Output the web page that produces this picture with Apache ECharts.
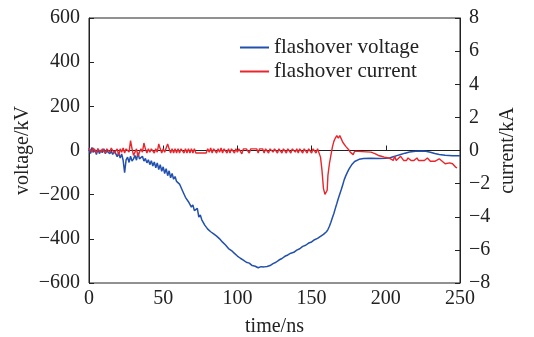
<!DOCTYPE html>
<html><head><meta charset="utf-8">
<script src="https://cdn.jsdelivr.net/npm/echarts@6/dist/echarts.min.js"></script>
<style>html,body{margin:0;padding:0;background:#fff}#c{width:534px;height:337px}</style>
</head><body><div id="c"></div>
<script>
// voltage (kV) vs time (ns)
const voltTime = [0,1,2,3,4,5,6,7,8,9,10,11,12,13,14,15,16,17,18,19,20,21,22,23,24,25,26,27,28,29,30,31,32,33,34,35,36,37,38,39,40,41,42,43,44,45,46,47,48,49,50,51,52,53,54,55,56,57,58,59,60,61,62,63,64,65,66,67,68,69,70,71,72,73,74,75,76,77,78,79,80,81,82,83,84,85,86,87,88,89,90,92,94,96,98,100,102,104,106,108,110,112,114,115,116,117,118,119,120,122,124,126,128,130,132,134,136,138,140,142,144,146,148,150,152,154,156,158,160,161,162,163,164,165,166,167,168,169,170,171,172,173,174,175,176,177,178,179,180,182,185,190,195,200,203,205,208,210,213,216,220,224,227,230,233,236,240,245,250];
const voltage = [10,-14,14,-8,4,-18,8,-14,2,-10,8,-14,-2,6,-14,-4,-18,-2,-14,-28,-12,-34,-16,-44,-100,-42,-30,-54,-26,-48,-38,-22,-44,-10,-38,-44,-26,-48,-36,-56,-42,-64,-46,-70,-52,-78,-56,-86,-64,-94,-74,-104,-82,-114,-92,-124,-104,-130,-118,-140,-134,-152,-156,-182,-186,-212,-208,-232,-228,-256,-246,-272,-268,-262,-302,-292,-314,-314,-338,-334,-356,-348,-368,-360,-378,-372,-388,-382,-400,-398,-415,-428,-444,-453,-466,-478,-488,-496,-506,-510,-521,-524,-531,-536,-526,-532,-527,-533,-525,-521,-512,-506,-496,-489,-479,-473,-465,-461,-451,-445,-434,-429,-419,-414,-404,-398,-389,-380,-368,-358,-343,-325,-305,-285,-262,-240,-217,-197,-177,-155,-132,-115,-100,-87,-75,-65,-57,-50,-45,-40,-36,-35,-36,-35,-33,-28,-22,-18,-12,-7,-3,-2,-3,-8,-14,-18,-22,-24,-24];
// current (kA) vs time (ns)
const currTime = [0,1,2,3,4,5,6,7,8,9,10,11,12,13,14,15,16,17,18,19,20,21,22,23,24,25,26,27,28,29,30,31,32,33,34,35,36,37,38,39,40,41,42,43,44,45,46,47,48,49,50,51,52,53,54,55,56,57,58,59,60,61,62,63,64,65,66,67,68,69,70,71,72,73,79,80,81,82,83,84,85,86,87,88,89,90,91,92,93,94,95,96,97,98,99,100,101,102,103,104,105,106,107,108,109,110,111,112,113,114,115,116,117,118,119,120,121,122,123,124,125,126,127,128,129,130,131,132,133,134,135,136,137,138,139,140,141,142,143,144,145,146,147,148,149,150,151,152,153,154,155,156,157,158,159,160,160.5,161,162,163,164,165,166,167,168,169,170,171,172,173,174,175,176,177,178,179,180,181,190,193,194,195,196,197,198,199,200,202,203,205,206,207,208,210,212,214,215,217,219,221,222,224,226,228,230,233,236,238,240,243,245,247,248,250];
const current = [0.15,0.1,-0.1,0.15,0.1,-0.15,0.1,0.15,-0.1,0.1,0.15,-0.15,0.1,0.1,-0.1,0.15,0.1,-0.15,-0.2,0.1,-0.3,0.1,-0.1,0.15,-0.15,0.1,0.1,-0.1,0.6,0.1,-0.3,-0.1,0.1,-0.35,-0.1,0.1,-0.1,0.45,0.1,-0.15,0.1,-0.1,0.1,0.15,-0.15,0.1,-0.1,0.4,0.1,-0.15,0.1,-0.1,0.15,0.4,0.1,-0.15,0.1,-0.15,0.1,-0.15,0.1,-0.15,0.1,0.1,-0.15,0.1,-0.15,0.1,-0.15,0.1,-0.15,0.1,-0.15,-0.15,-0.15,0.1,-0.1,0.15,-0.15,0.1,0.1,-0.15,0.1,-0.1,0.15,-0.15,0.1,0.1,-0.15,0.1,-0.15,0.1,0.15,-0.15,0.1,-0.1,0.1,0.1,-0.2,0.1,0.1,0.1,0.1,-0.15,0.1,0.1,0.1,0.1,0.1,-0.15,0.1,0.15,0.1,-0.15,0.1,0.1,-0.15,0.1,0.15,-0.1,0.1,0.1,-0.15,0.1,0.1,-0.15,0.1,0.15,-0.15,0.1,0.1,-0.15,0.1,0.15,-0.1,0.1,-0.15,0.1,0.1,-0.15,0.1,0.1,-0.15,0.1,0.15,-0.15,0.1,0.1,-0.15,0.1,0.05,-0.4,-1.2,-2.3,-2.65,-2.6,-2.4,-1.5,-0.8,-0.3,0.2,0.55,0.75,0.9,0.75,0.9,0.7,0.5,0.45,0.25,0.2,0.05,-0.1,-0.15,-0.25,-0.05,-0.05,-0.05,-0.1,-0.2,-0.15,-0.3,-0.2,-0.35,-0.3,-0.4,-0.35,-0.45,-0.35,-0.6,-0.35,-0.6,-0.6,-0.35,-0.6,-0.6,-0.45,-0.6,-0.6,-0.45,-0.6,-0.6,-0.6,-0.45,-0.65,-0.65,-0.5,-0.65,-0.8,-0.75,-0.8,-1.0,-1.05];
const xTicks = [0,50,100,150,200,250];
const seriesNames = ['flashover voltage','flashover current'];

const font = '"Liberation Serif","Times New Roman",serif';
const ink = '#222';
const minus = v => String(v).replace('-', '\u2212');
const chart = echarts.init(document.getElementById('c'), null, {renderer:'canvas'});
chart.setOption({
  animation:false,
  grid:{left:89, right:74, top:18, bottom:54, outerBoundsMode:'none', containLabel:false, show:true, borderColor:ink, borderWidth:1, backgroundColor:'transparent'},
  legend:{
    orient:'vertical', left:240, top:37, padding:0, itemWidth:29, itemHeight:2, itemGap:3,
    icon:'rect',
    textStyle:{fontFamily:font, fontSize:21, color:ink, lineHeight:20},
    data:seriesNames
  },
  xAxis:{
    type:'value', min:0, max:250, interval:50,
    name:'time/ns', nameLocation:'middle', nameGap:34, nameMoveOverlap:false,
    nameTextStyle:{fontFamily:font, fontSize:20, color:ink},
    axisLine:{lineStyle:{color:ink, width:1}},
    axisTick:{inside:true, length:5, lineStyle:{color:ink}},
    axisLabel:{fontFamily:font, fontSize:20, color:ink, margin:6, formatter:v=>xTicks.includes(v)?minus(v):''},
    splitLine:{show:false}
  },
  yAxis:[{
    type:'value', min:-600, max:600, interval:200,
    name:'voltage/kV', nameLocation:'middle', nameGap:56, nameRotate:90, nameMoveOverlap:false,
    nameTextStyle:{fontFamily:font, fontSize:20, color:ink},
    axisLine:{show:true, lineStyle:{color:ink, width:1}},
    axisTick:{show:true, inside:true, length:5, lineStyle:{color:ink}},
    axisLabel:{fontFamily:font, fontSize:20, color:ink, margin:9, formatter:minus},
    splitLine:{show:false}
  },{
    type:'value', min:-8, max:8, interval:2, position:'right',
    name:'current/kA', nameLocation:'middle', nameGap:38, nameRotate:90, nameMoveOverlap:false,
    nameTextStyle:{fontFamily:font, fontSize:20, color:ink},
    axisLine:{show:true, lineStyle:{color:ink, width:1}},
    axisTick:{show:true, inside:true, length:5, lineStyle:{color:ink}},
    axisLabel:{fontFamily:font, fontSize:20, color:ink, margin:9, formatter:minus},
    splitLine:{show:false}
  }],
  series:[{
    name:seriesNames[0], type:'line', yAxisIndex:0, showSymbol:false, symbol:'none',
    data:voltTime.map((t,i)=>[t,voltage[i]]),
    lineStyle:{color:'#2250ad', width:1.5}, itemStyle:{color:'#2250ad'}
  },{
    name:seriesNames[1], type:'line', yAxisIndex:1, showSymbol:false, symbol:'none',
    data:currTime.map((t,i)=>[t,current[i]]),
    lineStyle:{color:'#e8262c', width:1.4}, itemStyle:{color:'#e8262c'}
  }]
});
</script></body></html>
